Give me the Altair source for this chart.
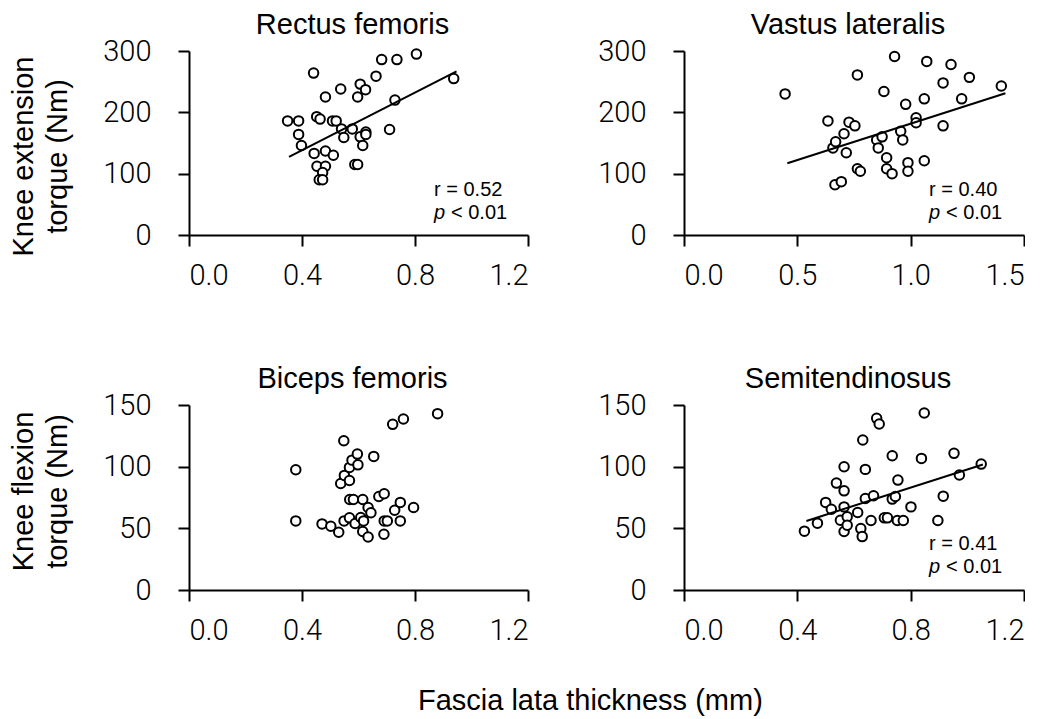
import altair as alt
import pandas as pd

# ---- data ----
rf_x = [0.349, 0.388, 0.388, 0.398, 0.441, 0.452, 0.464, 0.483, 0.443, 0.483, 0.511, 0.453, 0.483, 0.473, 0.461, 0.473,
        0.508, 0.521, 0.540, 0.548, 0.537, 0.578, 0.597, 0.606, 0.625, 0.606, 0.626, 0.626, 0.615, 0.587, 0.597, 0.662,
        0.682, 0.736, 0.805, 0.729, 0.710, 0.937]
rf_y = [186, 186, 164, 146, 264, 193, 189, 225, 133, 137, 130, 112, 112, 102, 90, 90,
        186, 186, 173, 159, 238, 173, 225, 246, 237, 160, 168, 164, 146, 115, 115, 259,
        286, 286, 295, 220, 172, 255]

vl_x = [0.446, 0.635, 0.657, 0.669, 0.706, 0.716, 0.728, 0.754, 0.765, 0.666, 0.694, 0.765, 0.778, 0.850, 0.857, 0.874,
        0.882, 0.894, 0.894, 0.918, 0.929, 0.956, 0.965, 0.978, 0.988, 0.988, 1.024, 1.024, 1.060, 1.060, 1.071, 1.143,
        1.143, 1.178, 1.225, 1.259, 1.400]
vl_y = [230, 186, 142, 152, 165, 134, 184, 178, 261, 82, 87, 108, 104, 155, 142, 160,
        234, 126, 108, 100, 291, 169, 155, 213, 118, 104, 191, 183, 222, 121, 283, 248,
        178, 278, 222, 257, 243]

bf_x = [0.378, 0.378, 0.471, 0.502, 0.530, 0.548, 0.537, 0.550, 0.568, 0.568, 0.577, 0.596, 0.598, 0.569, 0.582, 0.615,
        0.549, 0.568, 0.588, 0.608, 0.618, 0.615, 0.634, 0.634, 0.644, 0.654, 0.672, 0.691, 0.691, 0.702, 0.690, 0.721,
        0.759, 0.728, 0.748, 0.748, 0.795, 0.880]
bf_y = [97.5, 56, 53.6, 51.7, 46.8, 121, 86.4, 92.9, 88.8, 99.4, 105.3, 110.2, 101.5, 73.4, 73.4, 73.4,
        56, 58.5, 53.9, 58.8, 56, 47.4, 43, 66.9, 62.6, 108.3, 75.8, 78, 56, 56, 45.2, 134.3,
        138.6, 64.7, 71, 56, 66.9, 143]

st_x = [0.425, 0.471, 0.500, 0.520, 0.538, 0.565, 0.565, 0.565, 0.552, 0.565, 0.576, 0.576, 0.613, 0.624, 0.629, 0.631,
        0.640, 0.640, 0.660, 0.669, 0.680, 0.689, 0.707, 0.718, 0.735, 0.735, 0.746, 0.755, 0.753, 0.774, 0.801, 0.838,
        0.848, 0.896, 0.915, 0.953, 0.972, 1.049]
st_y = [47.7, 54.2, 71, 65.5, 86.7, 99.9, 80.4, 67.4, 56.6, 47.4, 59.3, 52.5, 62.8, 49.8, 43.3, 121.6,
        97.8, 74.2, 56.3, 76.4, 139.2, 134.6, 58.5, 58.5, 108.9, 73.7, 75.8, 89.1, 56.3, 56.3, 67.4, 106.7,
        143.5, 56.3, 76.1, 110.8, 93.2, 102.1]

# regression line end points
rf_fit_x = [0.354, 0.947]
rf_fit_y = [127.2, 266.9]
vl_fit_x = [0.456, 1.418]
vl_fit_y = [117.0, 231.2]
st_fit_x = [0.432, 1.055]
st_fit_y = [56.0, 101.8]

titles = ["Rectus femoris", "Vastus lateralis", "Biceps femoris", "Semitendinosus"]
r_labels = ["r = 0.52", "r = 0.40", None, "r = 0.41"]
p_label = "p"
p_rest = "< 0.01"
y_titles = [["Knee extension", "torque (Nm)"], ["Knee flexion", "torque (Nm)"]]
x_title = "Fascia lata thickness (mm)"
x_ticks_a = [0.0, 0.4, 0.8, 1.2]
x_ticks_b = [0.0, 0.5, 1.0, 1.5]
y_ticks_top = [0, 100, 200, 300]
y_ticks_bot = [0, 50, 100, 150]

SANS = "Liberation Sans"
TICKF = "Roboto"


def axis(values, fmt, pad, title=None, title_y=None):
    kw = dict(values=values, format=fmt, tickSize=11, tickWidth=2, domainWidth=2,
              domainColor="black", tickColor="black", labelColor="black",
              labelFont=TICKF, labelFontWeight=300, labelFontSize=29, labelPadding=pad, grid=False)
    if title is not None:
        kw.update(title=title, titleFont=SANS, titleFontSize=29, titleFontWeight="normal",
                  titleColor="black", titleLineHeight=34, titlePadding=30)
        if title_y is not None:
            kw["titleY"] = title_y
    else:
        kw["title"] = None
    return alt.Axis(**kw)


def panel(xs, ys, fit_x, fit_y, title, xticks, yticks, ytitle, title_y, r, w, h):
    df = pd.DataFrame({"x": xs, "y": ys})
    one = pd.DataFrame({"k": [0]})
    xax = axis(xticks, ".1f", 15)
    yax = axis(yticks, "d", 27, ytitle, title_y)
    xs_ = alt.Scale(domain=[xticks[0], xticks[-1]], nice=False)
    ys_ = alt.Scale(domain=[yticks[0], yticks[-1]], nice=False)
    pts = alt.Chart(df).mark_point(shape="circle", filled=False, fill="white", fillOpacity=1,
                                   stroke="black", strokeWidth=2, size=90, opacity=1).encode(
        x=alt.X("x:Q", scale=xs_, axis=xax),
        y=alt.Y("y:Q", scale=ys_, axis=yax),
    )
    layers = [pts]
    if fit_x is not None:
        fdf = pd.DataFrame({"x": fit_x, "y": fit_y})
        line = alt.Chart(fdf).mark_line(color="black", strokeWidth=2).encode(
            x=alt.X("x:Q", scale=xs_), y=alt.Y("y:Q", scale=ys_))
        layers.append(line)
    if r is not None:
        t1 = alt.Chart(one).mark_text(text=r, align="left", baseline="alphabetic", font=SANS,
                                      fontSize=20, color="black").encode(
            x=alt.value(245), y=alt.value(145))
        t2 = alt.Chart(one).mark_text(text=p_label, align="left", baseline="alphabetic", font=SANS,
                                      fontSize=20, fontStyle="italic", color="black").encode(
            x=alt.value(245), y=alt.value(168))
        t3 = alt.Chart(one).mark_text(text=p_rest, align="left", baseline="alphabetic", font=SANS,
                                      fontSize=20, color="black").encode(
            x=alt.value(262), y=alt.value(168))
        layers += [t1, t2, t3]
    return alt.layer(*layers).properties(
        width=w, height=h,
        title=alt.TitleParams(title, font=SANS, fontSize=29, fontWeight="normal", color="black",
                              anchor="middle", frame="group", offset=-3, dx=-6),
    )


p1 = panel(rf_x, rf_y, rf_fit_x, rf_fit_y, titles[0], x_ticks_a, y_ticks_top, y_titles[0], 105, r_labels[0], 339, 184)
p2 = panel(vl_x, vl_y, vl_fit_x, vl_fit_y, titles[1], x_ticks_b, y_ticks_top, None, None, r_labels[1], 340, 184)
p3 = panel(bf_x, bf_y, None, None, titles[2], x_ticks_a, y_ticks_bot, y_titles[1], 86, r_labels[2], 339, 185)
p4 = panel(st_x, st_y, st_fit_x, st_fit_y, titles[3], x_ticks_a, y_ticks_bot, None, None, r_labels[3], 340, 185)

row1 = alt.hconcat(p1, p2, spacing=68)
row2 = alt.hconcat(p3, p4, spacing=68)

chart = alt.vconcat(row1, row2, spacing=75).properties(
    padding={"left": 1, "top": 3, "right": 0, "bottom": 0},
    title=alt.TitleParams(x_title, orient="bottom", anchor="middle", font=SANS, fontSize=29,
                          fontWeight="normal", color="black", offset=42, dx=73),
).configure_view(stroke=None)

chart.save("out.html", embed_options={"renderer": "svg", "actions": False})
